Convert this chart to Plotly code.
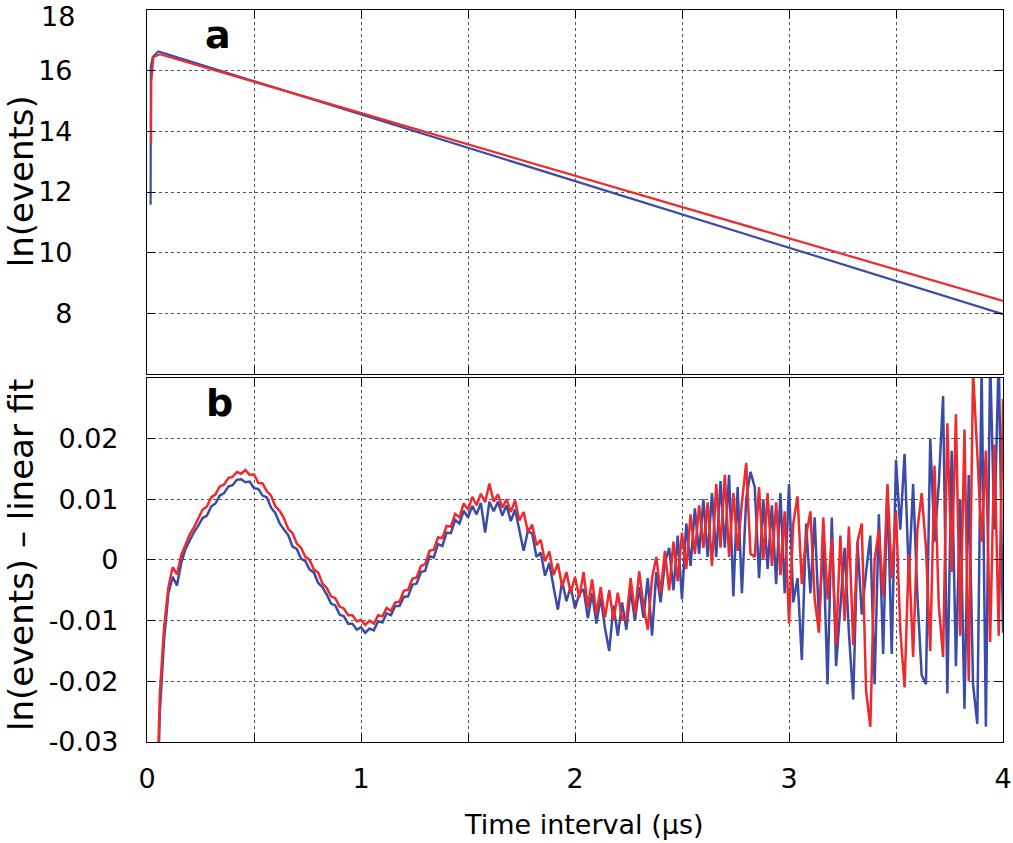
import numpy as np
import plotly.graph_objects as go

# ---------------- data ----------------
# top panel: ln(events) vs time interval (us)
top_time_blue = [0.017, 0.018, 0.027, 0.053, 0.1, 0.25, 0.5, 0.75, 1.0, 1.25, 1.5,
                 1.75, 2.0, 2.25, 2.5, 2.75, 3.0, 3.25, 3.5, 3.75, 4.0]
top_blue = [11.58, 16.13, 16.46, 16.63, 16.53, 16.20, 15.65, 15.10, 14.55, 14.00, 13.46,
            12.91, 12.36, 11.81, 11.26, 10.71, 10.16, 9.62, 9.07, 8.52, 7.97]
top_time_red = [0.019, 0.020, 0.030, 0.061, 0.1, 0.25, 0.5, 0.75, 1.0, 1.25, 1.5,
                1.75, 2.0, 2.25, 2.5, 2.75, 3.0, 3.25, 3.5, 3.75, 4.0]
top_red = [13.62, 15.63, 16.45, 16.54, 16.46, 16.15, 15.63, 15.12, 14.60, 14.09, 13.57,
           13.05, 12.54, 12.02, 11.51, 10.99, 10.47, 9.96, 9.44, 8.93, 8.41]

# bottom panel: residuals, time bins 0.04 .. 4.00 us (step 0.02)
resid_time = np.round(np.arange(0.04, 4.0001, 0.02), 2)
# residual values in units of 1e-3
red_resid_milli = [
    -48, -22, -11, -4.5, -1.2, -2.4, 0.8, 2.6, 4.2, 5.4,
    6.8, 8.3, 8.8, 10.3, 10.8, 12.1, 12.4, 13.5, 13.7, 14.5,
    14.2, 14.8, 14.0, 14.1, 12.7, 12.6, 11.3, 10.6, 8.8, 8.1,
    6.9, 5.1, 4.4, 2.7, 2.0, 0.5, 0.0, -1.6, -2.1, -3.9,
    -4.6, -6.0, -6.3, -7.7, -8.0, -9.1, -9.1, -10.1, -9.9, -10.7,
    -10.0, -10.5, -9.1, -9.3, -7.9, -8.4, -7.0, -6.9, -5.1, -4.9,
    -3.1, -2.9, -1.0, -0.7, 1.5, 1.7, 3.7, 3.6, 5.6, 5.5,
    7.6, 7.0, 9.3, 8.3, 10.4, 9.0, 10.9, 9.5, 12.6, 9.6,
    10.8, 8.6, 10.0, 7.9, 9.8, 6.5, 7.9, 4.6, 5.8, 2.4,
    3.3, -0.2, 1.4, -2.5, -0.6, -4.4, -2.0, -5.5, -2.8, -6.2,
    -2.0, -7.8, -3.2, -8.9, -4.5, -9.5, -5.0, -10.0, -5.4, -9.8,
    -9.8, -3.0, -8.9, -1.9, -7.6, -11.5, -3.0, 0.5, -5.5, 1.5,
    -5.0, 3.0, -3.5, 4.5, -1.5, 7.5, 1.0, 9.0, 2.0, 9.5,
    -1.0, 12.5, 2.0, 14.0, 0.5, 11.0, 1.5, 9.5, 16.0, 1.0,
    0.5, 12.0, 0.0, 11.0, -1.0, 9.5, -2.5, 8.0, -10.5, 6.0,
    10.5, -4.0, 4.0, 8.0, -6.5, -12.0, 7.0, -6.5, 3.5, -14.0,
    4.0, -10.0, 5.5, -14.0, 3.0, 6.0, -21.5, -27.5, 0.0, 5.0,
    -6.0, 12.5, -3.0, 8.0, -11.5, -21.0, 1.0, -16.0, 5.0, 11.0,
    2.0, -15.0, 15.5, -7.5, -16.0, 22.5, -2.0, 24.0, -12.5, 21.5,
    -20.0, 31.0, 17.5, 3.0, 18.0, -13.5, 19.0, -12.5, 26.5,
]
blue_resid_milli = [
    -52, -25, -13, -5.5, -2.8, -4.2, -0.5, 1.8, 3.2, 4.6,
    5.7, 6.9, 7.3, 8.8, 9.3, 10.6, 11.0, 12.1, 12.3, 13.2,
    13.3, 12.8, 12.9, 11.8, 11.7, 10.6, 10.3, 8.6, 7.7, 6.0,
    5.0, 4.1, 2.2, 1.8, 0.2, -0.2, -1.6, -2.1, -3.8, -4.5,
    -5.7, -7.2, -7.5, -9.0, -9.3, -10.5, -10.5, -11.5, -11.1, -12.0,
    -11.3, -11.6, -10.1, -10.3, -8.8, -9.1, -7.6, -7.6, -6.1, -6.0,
    -4.1, -3.9, -2.0, -1.8, 0.6, 0.4, 2.6, 2.3, 4.5, 4.4,
    6.6, 6.0, 8.1, 7.0, 8.9, 7.5, 9.4, 4.5, 9.6, 8.0,
    9.6, 7.3, 9.0, 6.4, 8.3, 5.0, 1.5, 4.8, 4.3, 0.5,
    1.2, -2.6, -0.5, -4.5, -8.2, -3.5, -6.8, -4.4, -8.0, -5.6,
    -4.8, -9.6, -5.5, -10.5, -6.2, -11.2, -15.0, -7.5, -12.5, -7.0,
    -11.5, -5.0, -10.0, -4.5, -9.5, -3.0, -12.5, -2.0, -7.0, -0.5,
    2.0, -5.0, 4.0, -6.5, 6.0, -1.0, 8.5, 1.0, 10.0, 0.5,
    11.0, 0.5, 13.0, 2.0, 14.0, -6.0, 12.0, -5.5, 10.0, 14.5,
    12.0, -3.0, 10.0, -1.5, 9.0, -4.0, 11.0, -5.5, 12.5, -7.0,
    -3.0, -16.5, 6.0, -5.5, 7.0, -10.0, 3.0, -20.5, 7.0, -17.5,
    -8.0, 2.0, -12.0, -23.0, 3.0, -9.0, -2.0, 4.0, -20.5, 7.5,
    -15.5, 12.0, -15.5, 16.5, 5.0, 17.5, -3.0, 12.5, -6.0, -19.0,
    -20.5, 20.0, 3.0, 12.5, 27.0, -22.0, 18.0, -17.5, 10.0, -24.5,
    14.0, -20.5, -27.0, 32.0, -27.5, 33.0, 5.0, 34.0, -12.0,
]
red_resid = np.array(red_resid_milli) * 1e-3
blue_resid = np.array(blue_resid_milli) * 1e-3

x_tickvals = [0, 0.5, 1, 1.5, 2, 2.5, 3, 3.5, 4]
x_ticktext = ["0", "", "1", "", "2", "", "3", "", "4"]
top_tickvals = [8, 10, 12, 14, 16, 18]
top_ticktext = ["8", "10", "12", "14", "16", ""]   # "18" drawn as annotation below
top_label_18 = "18"
bot_tickvals = [-0.03, -0.02, -0.01, 0, 0.01, 0.02]
bot_ticktext = ["-0.03", "-0.02", "-0.01", "0", "0.01", "0.02"]

BLUE = "#3B4BA8"
RED = "#EE2A2D"
FONT = "DejaVu Sans"

# ---------------- figure ----------------
fig = go.Figure()
fig.add_trace(go.Scatter(x=top_time_blue, y=top_blue, mode="lines",
                         line=dict(color=BLUE, width=2.2), xaxis="x2", yaxis="y2"))
fig.add_trace(go.Scatter(x=top_time_red, y=top_red, mode="lines",
                         line=dict(color=RED, width=2.2), xaxis="x2", yaxis="y2"))
fig.add_trace(go.Scatter(x=resid_time, y=blue_resid, mode="lines",
                         line=dict(color=BLUE, width=2.5), xaxis="x", yaxis="y"))
fig.add_trace(go.Scatter(x=resid_time, y=red_resid, mode="lines",
                         line=dict(color=RED, width=2.5), xaxis="x", yaxis="y"))

axis_common = dict(
    showline=True, linecolor="black", linewidth=1.2, mirror="ticks",
    ticks="inside", ticklen=8, tickwidth=1.2, tickcolor="black",
    showgrid=True, gridcolor="#555555", gridwidth=1, griddash="dot",
    zeroline=False, automargin=False, ticklabeloverflow="allow",
    tickfont=dict(family=FONT, size=27, color="black"),
)

fig.update_layout(
    width=1013, height=843,
    margin=dict(l=147, r=10, t=10, b=101, autoexpand=False),
    paper_bgcolor="white", plot_bgcolor="white",
    showlegend=False,
    xaxis=dict(range=[0, 4], tickvals=x_tickvals, ticktext=x_ticktext,
               anchor="y", ticklabelstandoff=12, **axis_common),
    xaxis2=dict(range=[0, 4], tickvals=x_tickvals, ticktext=x_ticktext,
                anchor="y2", matches="x", showticklabels=False, **axis_common),
    yaxis=dict(range=[-0.03, 0.03], tickvals=bot_tickvals, ticktext=bot_ticktext,
               domain=[0, 0.4975], anchor="x", ticklabelstandoff=22, **axis_common),
    yaxis2=dict(range=[6, 18], tickvals=top_tickvals, ticktext=top_ticktext,
                domain=[0.5027, 1], anchor="x2", ticklabelstandoff=68, **axis_common),
)

# "18" tick label, nudged just inside the top edge as in the reference
fig.add_annotation(text=top_label_18, xref="paper", yref="paper",
                   x=(77 - 147) / 856, y=(742 - 16) / 732, showarrow=False,
                   xanchor="right", yanchor="middle",
                   font=dict(family=FONT, size=27, color="black"))
fig.add_annotation(text="Time interval (μs)", xref="paper", yref="paper",
                   x=0.5105, y=-0.113, showarrow=False, xanchor="center", yanchor="middle",
                   font=dict(family=FONT, size=27, color="black"))
fig.add_annotation(text="ln(events)", xref="paper", yref="paper",
                   x=-0.1472, y=0.766, showarrow=False, textangle=-90,
                   xanchor="center", yanchor="middle",
                   font=dict(family=FONT, size=34, color="black"))
fig.add_annotation(text="ln(events) – linear fit", xref="paper", yref="paper",
                   x=-0.1472, y=0.2555, showarrow=False, textangle=-90,
                   xanchor="center", yanchor="middle",
                   font=dict(family=FONT, size=34, color="black"))
fig.add_annotation(text="<b>a</b>", xref="x2", yref="y2", x=0.332, y=17.18,
                   showarrow=False, xanchor="center", yanchor="middle",
                   font=dict(family=FONT, size=38, color="black"))
fig.add_annotation(text="<b>b</b>", xref="x", yref="y", x=0.341, y=0.0258,
                   showarrow=False, xanchor="center", yanchor="middle",
                   font=dict(family=FONT, size=38, color="black"))

fig.write_html("out.html", config={"displayModeBar": False},
               post_script="document.body.style.margin='0px';document.body.style.overflow='hidden';")
